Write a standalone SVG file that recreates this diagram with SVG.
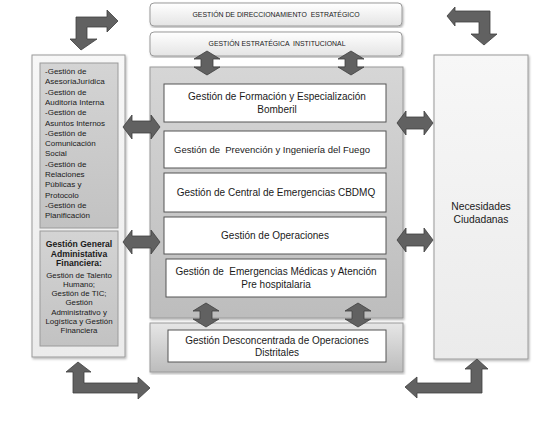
<svg xmlns="http://www.w3.org/2000/svg" width="555" height="429" viewBox="0 0 555 429">
<defs>
<linearGradient id="gTop" x1="0" y1="0" x2="0" y2="1"><stop offset="0" stop-color="#ffffff"/><stop offset="1" stop-color="#e4e4e4"/></linearGradient>
<linearGradient id="gCenter" x1="0" y1="0" x2="0" y2="1"><stop offset="0" stop-color="#d6d6d6"/><stop offset="1" stop-color="#bdbdbd"/></linearGradient>
<linearGradient id="gInner" x1="0" y1="0" x2="0" y2="1"><stop offset="0" stop-color="#d4d4d4"/><stop offset="1" stop-color="#c2c2c2"/></linearGradient>
<linearGradient id="gLight" x1="0" y1="0" x2="0" y2="1"><stop offset="0" stop-color="#f7f7f7"/><stop offset="1" stop-color="#ebebeb"/></linearGradient>
<linearGradient id="gBottom" x1="0" y1="0" x2="0" y2="1"><stop offset="0" stop-color="#e6e6e6"/><stop offset="1" stop-color="#bcbcbc"/></linearGradient>
<filter id="sh" x="-5%" y="-5%" width="110%" height="110%"><feDropShadow dx="1" dy="1.5" stdDeviation="0.8" flood-color="#000" flood-opacity="0.3"/></filter>
</defs>
<style>
text{font-family:"Liberation Sans",Arial,sans-serif;fill:#1a1a1a;white-space:pre}
.box{stroke:#9a9a9a;stroke-width:1}
.wb{fill:#ffffff;stroke:#555;stroke-width:1}
.arr{fill:#616161;stroke:#3f3f3f;stroke-width:0.8;stroke-linejoin:miter}
.cap{font-size:6.9px;text-anchor:middle}
.mid{font-size:10px;text-anchor:middle}
.sm{font-size:9.5px}
.rt{font-size:10.3px}
.lft{font-size:8px}
.ctr{font-size:7.9px;text-anchor:middle}
.bld{font-size:8.6px;font-weight:bold;text-anchor:middle}
</style>
<g id="top1"><rect class="box" x="150" y="3" width="252" height="23" rx="4" fill="url(#gTop)" filter="url(#sh)"/><text class="cap" x="276" y="16.5">GESTIÓN DE DIRECCIONAMIENTO  ESTRATÉGICO</text></g>
<g id="top2"><rect class="box" x="150" y="32" width="252" height="24" rx="4" fill="url(#gTop)" filter="url(#sh)"/><text class="cap" x="277" y="46">GESTIÓN ESTRATÉGICA  INSTITUCIONAL</text></g>
<g id="left"><rect class="box" x="32" y="55" width="93" height="302" fill="url(#gLight)" filter="url(#sh)"/>
<rect class="box" x="40" y="63" width="78" height="165" fill="url(#gInner)"/>
<text class="lft"><tspan x="45" y="74">-Gestión de</tspan><tspan x="45" y="84.3">AsesoríaJurídica</tspan><tspan x="45" y="94.6">-Gestión de</tspan><tspan x="45" y="104.9">Auditoría Interna</tspan><tspan x="45" y="115.2">-Gestión de</tspan><tspan x="45" y="125.5">Asuntos Internos</tspan><tspan x="45" y="135.8">-Gestión de</tspan><tspan x="45" y="146.1">Comunicación</tspan><tspan x="45" y="156.4">Social</tspan><tspan x="45" y="166.7">-Gestión de</tspan><tspan x="45" y="177">Relaciones</tspan><tspan x="45" y="187.3">Públicas y</tspan><tspan x="45" y="197.6">Protocolo</tspan><tspan x="45" y="207.9">-Gestión de</tspan><tspan x="45" y="218.2">Planificación</tspan></text>
<rect class="box" x="40" y="231" width="78" height="115" fill="url(#gInner)"/>
<text class="bld"><tspan x="79" y="247">Gestión General</tspan><tspan x="79" y="256.5">Administativa</tspan><tspan x="79" y="266">Financiera:</tspan></text>
<text class="ctr"><tspan x="79" y="277.5">Gestión de Talento</tspan><tspan x="79" y="286.8">Humano;</tspan><tspan x="79" y="296.1">Gestión de TIC;</tspan><tspan x="79" y="305.4">Gestión</tspan><tspan x="79" y="314.7">Administrativo y</tspan><tspan x="79" y="324">Logística y Gestión</tspan><tspan x="79" y="333.3">Financiera</tspan></text></g>
<g id="center"><rect class="box" x="150" y="67" width="253" height="251" fill="url(#gCenter)" filter="url(#sh)"/></g>
<g id="n1"><rect class="wb" x="164" y="84" width="222" height="38"/><text class="mid"><tspan x="277" y="100">Gestión de Formación y Especialización</tspan><tspan x="277" y="113">Bomberil</tspan></text></g>
<g id="n2"><rect class="wb" x="164" y="131" width="222" height="37"/><text class="mid sm" x="272" y="153">Gestión de  Prevención y Ingeniería del Fuego</text></g>
<g id="n3"><rect class="wb" x="164" y="173" width="222" height="39"/><text class="mid" x="276" y="196">Gestión de Central de Emergencias CBDMQ</text></g>
<g id="n4"><rect class="wb" x="164" y="217" width="222" height="37"/><text class="mid" x="275" y="239">Gestión de Operaciones</text></g>
<g id="n5"><rect class="wb" x="166" y="259" width="220" height="38"/><text class="mid"><tspan x="276" y="275">Gestión de  Emergencias Médicas y Atención</tspan><tspan x="276" y="288">Pre hospitalaria</tspan></text></g>
<g id="bottom"><rect class="box" x="150" y="323" width="253" height="49" fill="url(#gBottom)" filter="url(#sh)"/><rect class="wb" x="168" y="330" width="218" height="32"/><text class="mid"><tspan x="277" y="344">Gestión Desconcentrada de Operaciones</tspan><tspan x="277" y="356">Distritales</tspan></text></g>
<g id="right"><rect class="box" x="434" y="55" width="94" height="304" fill="url(#gLight)" filter="url(#sh)"/><text class="mid rt"><tspan x="481" y="210">Necesidades</tspan><tspan x="481" y="223">Ciudadanas</tspan></text></g>
<g id="connectors">
<path class="arr" d="M207,51 L220,59 L213,59 L213,67 L220,67 L207,75 L194,67 L201,67 L201,59 L194,59 Z"/>
<path class="arr" d="M351,51 L364,59 L357,59 L357,67 L364,67 L351,75 L338,67 L345,67 L345,59 L338,59 Z"/>
<path class="arr" d="M206,303 L219,311 L212,311 L212,319 L219,319 L206,327 L193,319 L200,319 L200,311 L193,311 Z"/>
<path class="arr" d="M358,303 L371,311 L364,311 L364,319 L371,319 L358,327 L345,319 L352,319 L352,311 L345,311 Z"/>
<path class="arr" d="M123,127 L132,115 L132,121 L151,121 L151,115 L160,127 L151,139 L151,133 L132,133 L132,139 Z"/>
<path class="arr" d="M123,242 L132,230 L132,236 L151,236 L151,230 L160,242 L151,254 L151,248 L132,248 L132,254 Z"/>
<path class="arr" d="M397,123 L406,111 L406,117 L424,117 L424,111 L433,123 L424,135 L424,129 L406,129 L406,135 Z"/>
<path class="arr" d="M397,240 L406,228 L406,234 L424,234 L424,228 L433,240 L424,252 L424,246 L406,246 L406,252 Z"/>
<path class="arr" d="M76,17 L107,17 L107,10 L118,21 L107,32 L107,27 L87,27 L87,39 L97,39 L81,50 L70,39 L76,39 Z"/>
<path class="arr" d="M447,16 L455,7 L455,11 L490,11 L490,34 L497,34 L484,45 L471,34 L479,34 L479,22 L455,22 L455,26 Z"/>
<path class="arr" d="M78,362 L91,372 L84,372 L84,383 L138,383 L138,377 L150,388 L138,399 L138,393 L73,393 L73,372 L66,372 Z"/>
<path class="arr" d="M477,359 L488,369 L482,369 L482,393 L417,393 L417,398 L405,387 L417,377 L417,383 L471,383 L471,369 L465,369 Z"/>
</g>
</svg>
